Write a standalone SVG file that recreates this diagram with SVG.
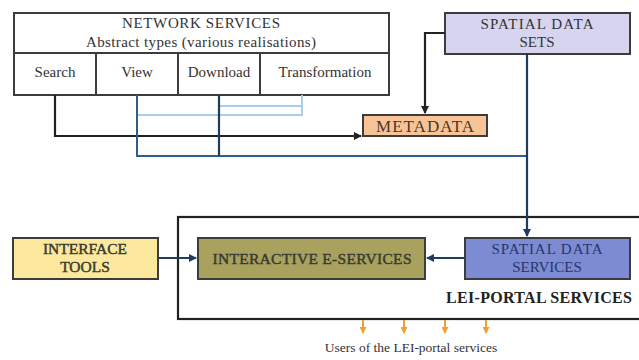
<svg xmlns="http://www.w3.org/2000/svg" width="639" height="360" viewBox="0 0 639 360">
<style>
text{font-family:"Liberation Serif","Times New Roman",serif;fill:#333;text-anchor:middle}
.box{stroke:#3c3c3c;stroke-width:2}
.t15{font-size:15px}
.lbl{font-size:15.5px;fill:#3a3a32;stroke:#3a3a32;stroke-width:0.45}
.dk{fill:none;stroke:#222;stroke-width:2.2}
.bl{fill:none;stroke:#2e5f8c;stroke-width:2}
.nv{fill:none;stroke:#1f3c5c;stroke-width:2.2}
.lb{fill:none;stroke:#a8cfe8;stroke-width:2}
.or{fill:none;stroke:#f0a030;stroke-width:2}
</style>
<defs>
<marker id="ak" markerWidth="8" markerHeight="8" refX="7" refY="4" orient="auto" markerUnits="userSpaceOnUse"><path d="M0,0 L8,4 L0,8 z" fill="#222"/></marker>
<marker id="ab" markerWidth="8" markerHeight="8" refX="7" refY="4" orient="auto" markerUnits="userSpaceOnUse"><path d="M0,0 L8,4 L0,8 z" fill="#1f3c5c"/></marker>
<marker id="ao" markerWidth="7" markerHeight="7" refX="6" refY="3.5" orient="auto" markerUnits="userSpaceOnUse"><path d="M0,0 L7,3.5 L0,7 z" fill="#f0a030"/></marker>
</defs>
<rect width="639" height="360" fill="#fff"/>

<g id="lei-portal">
<rect x="178" y="217" width="470" height="102" fill="none" stroke="#222" stroke-width="2.2"/>
<text x="539" y="303" style="font-size:16px;font-weight:bold;fill:#222" textLength="186">LEI-PORTAL SERVICES</text>
</g>

<g id="network-services">
<rect class="box" x="14" y="13" width="375" height="82" fill="#fff"/>
<line x1="14" y1="53" x2="389" y2="53" stroke="#3c3c3c" stroke-width="2"/>
<line x1="96" y1="53" x2="96" y2="95" stroke="#3c3c3c" stroke-width="2"/>
<line x1="178" y1="53" x2="178" y2="95" stroke="#3c3c3c" stroke-width="2"/>
<line x1="260" y1="53" x2="260" y2="95" stroke="#3c3c3c" stroke-width="2"/>
<text class="t15" x="201" y="28" textLength="158">NETWORK SERVICES</text>
<text class="t15" x="201" y="47" textLength="230">Abstract types (various realisations)</text>
<text class="t15" x="55" y="77">Search</text>
<text class="t15" x="137" y="77">View</text>
<text class="t15" x="219" y="77">Download</text>
<text class="t15" x="325" y="77">Transformation</text>
</g>

<g id="spatial-data-sets">
<rect class="box" x="445" y="13" width="185" height="41" fill="#d6d4ee"/>
<text class="t15" x="537" y="29" textLength="113">SPATIAL DATA</text>
<text class="t15" x="537" y="47">SETS</text>
</g>

<g id="metadata">
<rect class="box" x="363" y="115" width="124" height="21" fill="#f8c497"/>
<text x="425" y="132" style="font-size:17px;fill:#4a3828" textLength="98">METADATA</text>
</g>

<g id="interface-tools">
<rect class="box" x="13" y="238" width="145" height="41" fill="#fce99e"/>
<text class="lbl" x="85" y="254">INTERFACE</text>
<text class="lbl" x="85" y="272">TOOLS</text>
</g>

<g id="interactive-e-services">
<rect class="box" x="198" y="238" width="227" height="41" fill="#a9a15e"/>
<text class="lbl" x="312" y="264" textLength="199">INTERACTIVE E-SERVICES</text>
</g>

<g id="spatial-data-services">
<rect class="box" x="465" y="238" width="165" height="41" fill="#7d8bd2"/>
<text class="t15" x="547" y="254" style="fill:#25366e" textLength="111">SPATIAL DATA</text>
<text class="t15" x="547" y="272" style="fill:#25366e">SERVICES</text>
</g>

<g id="connectors">
<polyline class="lb" points="302,95 302,115 137,115"/>
<polyline class="lb" points="302,106 219,106"/>
<polyline class="dk" points="55,95 55,136 361,136" marker-end="url(#ak)"/>
<polyline class="dk" points="445,33 425,33 425,113" marker-end="url(#ak)"/>
<polyline class="bl" points="137,95 137,156 527,156"/>
<line class="nv" x1="219" y1="95" x2="219" y2="156"/>
<polyline class="nv" points="527,54 527,236" marker-end="url(#ab)"/>
<line class="nv" x1="158" y1="258" x2="196" y2="258" marker-end="url(#ab)"/>
<line class="nv" x1="465" y1="258" x2="427" y2="258" marker-end="url(#ab)"/>
<line class="or" x1="363" y1="320" x2="363" y2="333" marker-end="url(#ao)"/>
<line class="or" x1="404" y1="320" x2="404" y2="333" marker-end="url(#ao)"/>
<line class="or" x1="445" y1="320" x2="445" y2="333" marker-end="url(#ao)"/>
<line class="or" x1="486" y1="320" x2="486" y2="333" marker-end="url(#ao)"/>
</g>

<text x="411" y="352" style="font-size:13.5px;fill:#333">Users of the LEI-portal services</text>
</svg>
